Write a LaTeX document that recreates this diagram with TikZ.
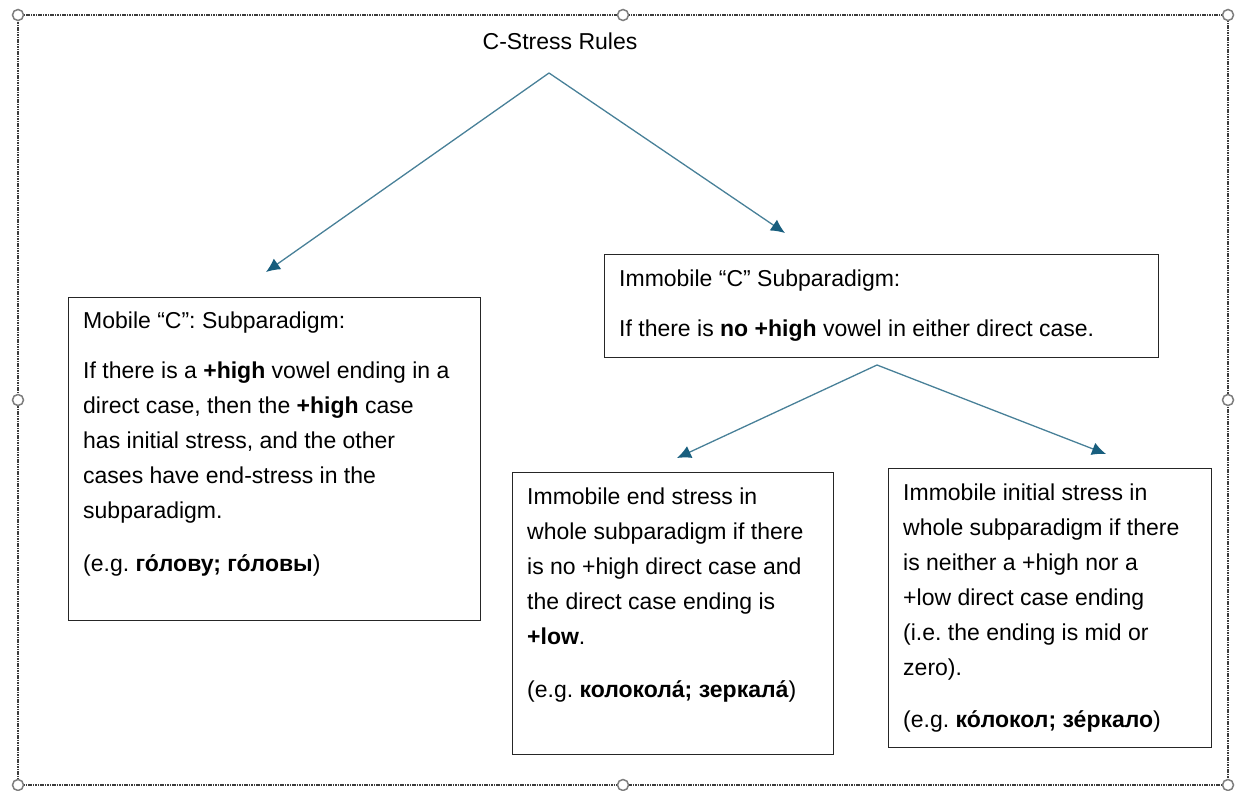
\documentclass[tikz,border=0pt]{standalone}
\usepackage{fontspec}
\setmainfont{Liberation Sans}
\usetikzlibrary{arrows.meta,positioning,calc}
\frenchspacing
\definecolor{arrowblue}{RGB}{72,128,152}
\definecolor{tipblue}{RGB}{24,94,126}
\definecolor{frameline}{RGB}{60,60,60}
\definecolor{handlegray}{RGB}{125,125,125}
\tikzset{
    rulebox/.style={
        rectangle,
        draw=black!85,
        line width=1.2pt,
        anchor=north west,
        inner sep=0pt
    },
    ruletext/.style={
        anchor=north west,
        inner sep=0pt,
        align=left,
        font=\fontsize{23}{35}\selectfont
    },
    rulearrow/.style={
        -{Latex[length=14pt,width=13pt,fill=tipblue,color=tipblue]},
        arrowblue,
        line width=1.3pt
    },
    handle/.style={
        draw=handlegray,
        fill=white,
        line width=1.5pt
    }
}

\begin{document}
\begin{tikzpicture}[x=1pt,y=-1pt]
    \useasboundingbox (0,0) rectangle (1246,790);
    % Selection frame
    \draw[frameline, line width=1.3pt, dash pattern=on 1.6pt off 0.8pt] (18,15) rectangle (1228,785);
    \foreach \hx/\hy in {18/15,623/15,1228/15,18/400,1228/400,18/785,623/785,1228/785}
        \draw[handle] (\hx,\hy) circle[radius=5.5pt];

    % Title
    \node[font=\fontsize{23}{26}\selectfont] (rules) at (560,41) {C-Stress Rules};
    \coordinate (rulesfork) at (549,73);
    \coordinate (mobiletip) at (266,272);
    \coordinate (immobiletip) at (785,233);

    % Mobile subparadigm
    \node[rulebox, minimum width=412pt, minimum height=323pt] (mobile) at (68,297) {};
    \node[ruletext] (mobiletxt) at ([xshift=15pt,yshift=-15pt]mobile.north west)
        {Mobile “C”: Subparadigm:\\[15pt]
         If there is a \textbf{+high} vowel ending in a\\
         direct case, then the \textbf{+high} case\\
         has initial stress, and the other\\
         cases have end-stress in the\\
         subparadigm.\\[18pt]
         (e.g. \textbf{го́лову;} \textbf{го́ловы})};

    % Immobile subparadigm
    \node[rulebox, minimum width=554pt, minimum height=103pt] (immobile) at (604,254) {};
    \node[ruletext] (immobiletxt) at ([xshift=15pt,yshift=-16pt]immobile.north west)
        {Immobile “C” Subparadigm:\\[15pt]
         If there is \textbf{no +high} vowel in either direct case.};
    \coordinate (immobilefork) at (877,365);
    \coordinate (endtip) at (677,458);
    \coordinate (initialtip) at (1106,454);

    % End stress
    \node[rulebox, minimum width=321pt, minimum height=282pt] (endstress) at (512,472) {};
    \node[ruletext] (endstresstxt) at ([xshift=15pt,yshift=-16pt]endstress.north west)
        {Immobile end stress in\\
         whole subparadigm if there\\
         is no +high direct case and\\
         the direct case ending is\\
         \textbf{+low}.\\[18pt]
         (e.g. \textbf{колокола́;} \textbf{зеркала́})};

    % Initial stress
    \node[rulebox, minimum width=323pt, minimum height=279pt] (initstress) at (888,468) {};
    \node[ruletext] (initstresstxt) at ([xshift=15pt,yshift=-16pt]initstress.north west)
        {Immobile initial stress in\\
         whole subparadigm if there\\
         is neither a +high nor a\\
         +low direct case ending\\
         (i.e. the ending is mid or\\
         zero).\\[17pt]
         (e.g. \textbf{ко́локол;} \textbf{зе́ркало})};

    % Arrows
    \draw[rulearrow] (rulesfork) -- (mobiletip);
    \draw[rulearrow] (rulesfork) -- (immobiletip);
    \draw[rulearrow] (immobilefork) -- (endtip);
    \draw[rulearrow] (immobilefork) -- (initialtip);
\end{tikzpicture}
\end{document}
